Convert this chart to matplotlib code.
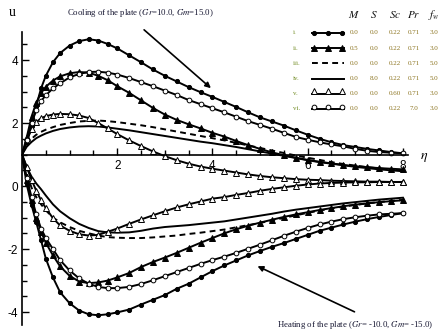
import matplotlib.pyplot as plt
from matplotlib.lines import Line2D
from matplotlib.ticker import FixedLocator, MultipleLocator

plt.rcParams['axes.unicode_minus'] = False
plt.rcParams['mathtext.fontset'] = 'stix'

# velocity profiles u(eta), cooling (Gr=10, Gm=15) and heating (Gr=-10, Gm=-15)
eta = [0, 0.1, 0.2, 0.3, 0.4, 0.5, 0.65, 0.8, 1.0, 1.2, 1.4, 1.6, 1.8, 2.0,
       2.25, 2.5, 2.75, 3.0, 3.25, 3.5, 3.75, 4.0, 4.25, 4.5, 4.75, 5.0,
       5.25, 5.5, 5.75, 6.0, 6.25, 6.5, 6.75, 7.0, 7.25, 7.5, 7.75, 8.0]

cool_1 = [1, 1.4, 1.9, 2.55, 3.1, 3.5, 3.93, 4.22, 4.46, 4.6, 4.66, 4.62, 4.51, 4.37,
          4.15, 3.93, 3.7, 3.5, 3.32, 3.14, 2.98, 2.83, 2.67, 2.51, 2.34, 2.18,
          2.05, 1.92, 1.77, 1.63, 1.5, 1.39, 1.3, 1.24, 1.18, 1.13, 1.08, 1.04]
cool_2 = [1, 1.55, 2.2, 2.65, 2.95, 3.15, 3.35, 3.48, 3.58, 3.62, 3.6, 3.5, 3.36, 3.17,
          2.96, 2.72, 2.48, 2.27, 2.1, 1.96, 1.83, 1.69, 1.57, 1.43, 1.3, 1.18,
          1.07, 0.98, 0.9, 0.83, 0.77, 0.72, 0.67, 0.63, 0.6, 0.57, 0.55, 0.53]
cool_3 = [1, 1.3, 1.5, 1.63, 1.72, 1.79, 1.87, 1.94, 2.0, 2.05, 2.07, 2.08, 2.06, 2.03,
          1.98, 1.93, 1.87, 1.8, 1.73, 1.66, 1.59, 1.52, 1.45, 1.37, 1.29, 1.21,
          1.13, 1.05, 0.97, 0.9, 0.83, 0.76, 0.7, 0.65, 0.6, 0.56, 0.52, 0.48]
cool_4 = [1, 1.25, 1.4, 1.52, 1.6, 1.67, 1.75, 1.81, 1.86, 1.89, 1.9, 1.89, 1.86, 1.82,
          1.77, 1.71, 1.65, 1.59, 1.53, 1.47, 1.41, 1.36, 1.3, 1.24, 1.17, 1.1,
          1.03, 0.96, 0.89, 0.82, 0.76, 0.71, 0.66, 0.61, 0.57, 0.53, 0.5, 0.47]
cool_5 = [1, 1.45, 1.8, 2.03, 2.15, 2.22, 2.27, 2.29, 2.28, 2.24, 2.16, 2.0, 1.83, 1.65,
          1.45, 1.27, 1.1, 0.95, 0.82, 0.71, 0.62, 0.55, 0.49, 0.43, 0.37, 0.32,
          0.28, 0.25, 0.22, 0.2, 0.19, 0.17, 0.16, 0.15, 0.14, 0.14, 0.13, 0.13]
cool_6 = [1, 1.46, 2.0, 2.4, 2.7, 2.88, 3.1, 3.26, 3.45, 3.56, 3.62, 3.63, 3.6, 3.54,
          3.43, 3.3, 3.17, 3.03, 2.89, 2.73, 2.6, 2.47, 2.34, 2.2, 2.06, 1.94,
          1.82, 1.69, 1.56, 1.47, 1.39, 1.32, 1.26, 1.18, 1.12, 1.08, 1.06, 1.04]

heat_1 = [1, 0.05, -0.6, -1.15, -1.72, -2.3, -2.9, -3.37, -3.72, -3.95, -4.07, -4.1, -4.07, -4.01,
          -3.92, -3.76, -3.61, -3.46, -3.26, -3.1, -2.9, -2.7, -2.52, -2.36, -2.2, -2.06,
          -1.93, -1.81, -1.68, -1.55, -1.42, -1.32, -1.22, -1.13, -1.05, -0.98, -0.92, -0.86]
heat_2 = [1, 0.2, -0.45, -1.0, -1.45, -1.8, -2.2, -2.55, -2.85, -3.03, -3.08, -3.06, -3.0, -2.9,
          -2.76, -2.57, -2.41, -2.27, -2.12, -1.96, -1.8, -1.65, -1.5, -1.37, -1.26, -1.16,
          -1.07, -0.98, -0.9, -0.83, -0.76, -0.7, -0.64, -0.59, -0.55, -0.51, -0.48, -0.45]
heat_3 = [1, 0.4, -0.05, -0.35, -0.58, -0.77, -1.0, -1.15, -1.3, -1.42, -1.5, -1.57, -1.62, -1.64,
          -1.65, -1.65, -1.63, -1.6, -1.57, -1.52, -1.48, -1.43, -1.38, -1.31, -1.24, -1.17,
          -1.09, -1.01, -0.93, -0.85, -0.78, -0.71, -0.65, -0.6, -0.55, -0.51, -0.47, -0.44]
heat_4 = [1, 0.6, 0.3, 0.08, -0.1, -0.3, -0.58, -0.8, -1.02, -1.2, -1.33, -1.43, -1.47, -1.48,
          -1.47, -1.42, -1.35, -1.3, -1.27, -1.24, -1.2, -1.16, -1.12, -1.06, -1.0, -0.94,
          -0.88, -0.81, -0.75, -0.7, -0.65, -0.6, -0.55, -0.51, -0.47, -0.43, -0.4, -0.37]
heat_5 = [1, 0.6, 0.2, -0.15, -0.45, -0.7, -1.02, -1.25, -1.42, -1.53, -1.57, -1.55, -1.45, -1.35,
          -1.2, -1.06, -0.93, -0.8, -0.68, -0.58, -0.49, -0.4, -0.35, -0.28, -0.22, -0.15,
          -0.09, -0.04, 0.01, 0.05, 0.08, 0.1, 0.11, 0.12, 0.12, 0.13, 0.13, 0.13]
heat_6 = [1, 0.25, -0.35, -0.9, -1.35, -1.65, -2.0, -2.35, -2.68, -2.93, -3.1, -3.2, -3.24, -3.24,
          -3.2, -3.11, -2.99, -2.86, -2.73, -2.6, -2.47, -2.35, -2.24, -2.12, -1.99, -1.86,
          -1.72, -1.58, -1.45, -1.33, -1.22, -1.13, -1.05, -0.99, -0.94, -0.9, -0.88, -0.86]

cases = ['i.', 'ii.', 'iii.', 'iv.', 'v.', 'vi.']
M_vals = ['0.0', '0.5', '0.0', '0.0', '0.0', '0.0']
S_vals = ['0.0', '0.0', '0.0', '8.0', '0.0', '0.0']
Sc_vals = ['0.22', '0.22', '0.22', '0.22', '0.60', '0.22']
Pr_vals = ['0.71', '0.71', '0.71', '0.71', '0.71', '7.0']
fw_vals = ['3.0', '3.0', '5.0', '5.0', '3.0', '3.0']

cool = [cool_1, cool_2, cool_3, cool_4, cool_5, cool_6]
heat = [heat_1, heat_2, heat_3, heat_4, heat_5, heat_6]

styles = [
    dict(marker='o', ms=3.0, mfc='k', ls='-'),
    dict(marker='^', ms=4.0, mfc='k', ls='-'),
    dict(marker=None, ls=(0, (3, 2.2))),
    dict(marker=None, ls='-'),
    dict(marker='^', ms=4.8, mfc='white', ls='-'),
    dict(marker='o', ms=3.4, mfc='white', ls='-'),
]

W, H = 443, 336
fig = plt.figure(figsize=(W / 100, H / 100), dpi=100)
ax = fig.add_axes([22 / W, 11 / H, 385.6 / W, 293 / H])
ax.set_xlim(0, 8.1)
ax.set_ylim(-4.41, 4.89)

for k in range(6):
    st = styles[k]
    for u in (cool[k], heat[k]):
        kw = dict(color='k', lw=1.4, ls=st['ls'])
        if st['marker']:
            kw.update(marker=st['marker'], ms=st['ms'], mfc=st['mfc'], mec='k',
                      mew=0.7, markevery=slice(1, None))
        ax.plot(eta, u, **kw)

# axes drawn through the origin (0, 1)
for s in ['top', 'right']:
    ax.spines[s].set_visible(False)
ax.spines['bottom'].set_position(('data', 1))
ax.spines['left'].set_position(('data', 0))
for s in ['bottom', 'left']:
    ax.spines[s].set_linewidth(1.2)

ax.xaxis.set_major_locator(FixedLocator([2, 4, 6, 8]))
ax.xaxis.set_minor_locator(MultipleLocator(0.5))
ax.yaxis.set_major_locator(FixedLocator([-4, -2, 0, 2, 4]))
ax.yaxis.set_minor_locator(MultipleLocator(0.5))
ax.tick_params(which='both', direction='in', width=1.0, labelsize=8.5)
ax.tick_params(which='major', length=5)
ax.tick_params(which='minor', length=3.5)
ax.tick_params(axis='x', pad=4)
ax.tick_params(axis='y', pad=3)
for lab in ax.get_xticklabels() + ax.get_yticklabels():
    lab.set_family('Liberation Sans')

def px(x, y):
    return x / W, 1 - y / H

fig.text(*px(12, 12), 'u', family='Liberation Serif', fontsize=10, ha='center', va='center')
fig.text(*px(424, 157), r'$\eta$', fontsize=10, ha='center', va='center')

txt = '#151530'
fig.text(*px(140, 13), r'Cooling of the plate ($Gr$=10.0, $Gm$=15.0)', family='Liberation Serif',
         fontsize=6.3, color=txt, ha='center', va='center')
fig.text(*px(355, 325), r'Heating of the plate ($Gr$= -10.0, $Gm$= -15.0)', family='Liberation Serif',
         fontsize=6.3, color=txt, ha='center', va='center')

ax.annotate('', xy=(213, H - 90), xycoords='figure pixels',
            xytext=(142, H - 28), textcoords='figure pixels',
            arrowprops=dict(arrowstyle='-|>', color='k', lw=1.2, mutation_scale=8))
ax.annotate('', xy=(255, H - 265), xycoords='figure pixels',
            xytext=(357, H - 313), textcoords='figure pixels',
            arrowprops=dict(arrowstyle='-|>', color='k', lw=1.2, mutation_scale=8))

# parameter table used as legend
cols_x = [354, 374, 395, 414, 434]
heads = [r'$M$', r'$S$', r'$Sc$', r'$Pr$', r'$f_w$']
for cx, hd in zip(cols_x, heads):
    fig.text(*px(cx, 15), hd, fontsize=8, ha='center', va='center', color='#111111')

num_col = '#6f8a1f'
val_col = '#8c7420'
for k in range(6):
    y = 33 + 15.2 * k
    fig.text(*px(293, y), cases[k], family='Liberation Serif', fontsize=5,
             color=num_col, ha='left', va='center')
    st = styles[k]
    x0, y0 = px(312, y)
    x1, _ = px(344, y)
    fig.add_artist(Line2D([x0, x1], [y0, y0], transform=fig.transFigure,
                          color='k', lw=1.4, ls=st['ls']))
    if st['marker']:
        dy = 0 if st['mfc'] == 'k' else 2.5
        mx = [px(x, y)[0] for x in (314, 328, 342)]
        fig.add_artist(Line2D(mx, [px(0, y - dy)[1]] * 3, transform=fig.transFigure,
                              ls='none', marker=st['marker'], ms=st['ms'], mfc=st['mfc'],
                              mec='k', mew=0.7))
    vals = [M_vals[k], S_vals[k], Sc_vals[k], Pr_vals[k], fw_vals[k]]
    for cx, v in zip(cols_x, vals):
        fig.text(*px(cx, y), v, family='Liberation Serif', fontsize=5,
                 color=val_col, ha='center', va='center')

fig.savefig('out.png', dpi=100)
